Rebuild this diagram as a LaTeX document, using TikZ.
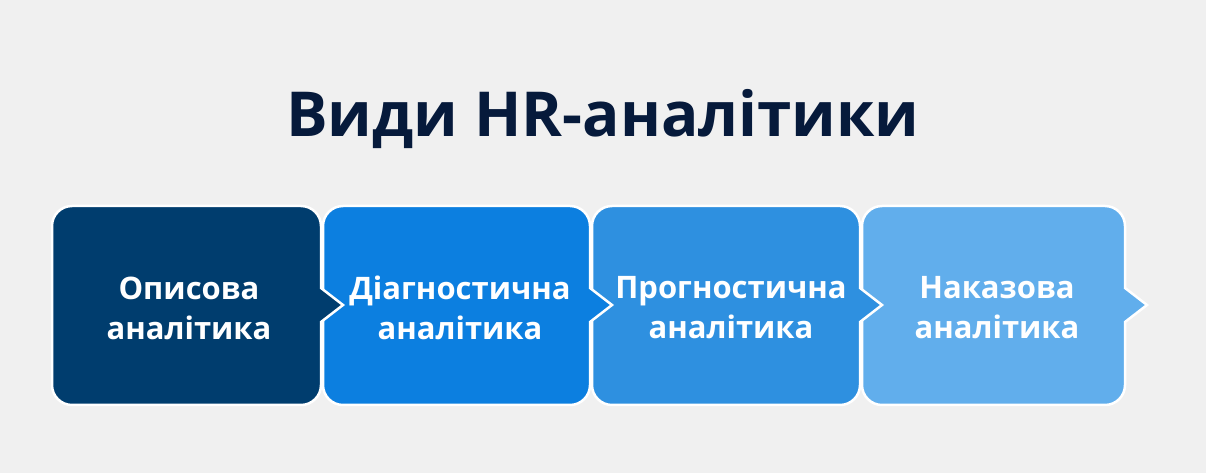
\documentclass[tikz,border=0pt]{standalone}
\usepackage{fontspec}
\setmainfont{Open Sans}
\definecolor{bg}{HTML}{F0F0F0}
\definecolor{titlec}{HTML}{061A3B}
\definecolor{cA}{HTML}{003D6E}
\definecolor{cB}{HTML}{0C7FE0}
\definecolor{cC}{HTML}{2E90E0}
\definecolor{cD}{HTML}{61AEEC}
\newcommand{\chevbox}[3]{%
  \filldraw[fill=#3,draw=white,line width=2.5pt,line join=miter]
    (#1+20,267) -- (#2-20,267) arc[start angle=90,end angle=0,radius=20pt]
    -- (#2,185) -- (#2+22,168) -- (#2,151) -- (#2,88)
    arc[start angle=0,end angle=-90,radius=20pt]
    -- (#1+20,68) arc[start angle=270,end angle=180,radius=20pt]
    -- (#1,247) arc[start angle=180,end angle=90,radius=20pt] -- cycle;}
\begin{document}
\begin{tikzpicture}[x=1pt,y=1pt,
  lbl/.style={text=white,font=\fontsize{31}{40}\selectfont\bfseries,align=center,inner sep=0pt}]
\useasboundingbox (0,0) rectangle (1206,473);
\fill[bg] (0,0) rectangle (1206,473);
\node[anchor=base,text=titlec,font=\fontsize{62}{70}\selectfont\bfseries,inner sep=0pt] (title) at (603,336) {Види HR-аналітики};
\chevbox{862}{1125}{cD}
\chevbox{592}{860}{cC}
\chevbox{323}{590}{cB}
\chevbox{52}{321}{cA}
\node[lbl] (n1) at (189,165) {Описова\\аналітика};
\node[lbl] (n2) at (460,165) {Діагностична\\аналітика};
\node[lbl] (n3) at (731,165) {Прогностична\\аналітика};
\node[lbl] (n4) at (997,165) {Наказова\\аналітика};
\end{tikzpicture}
\end{document}
